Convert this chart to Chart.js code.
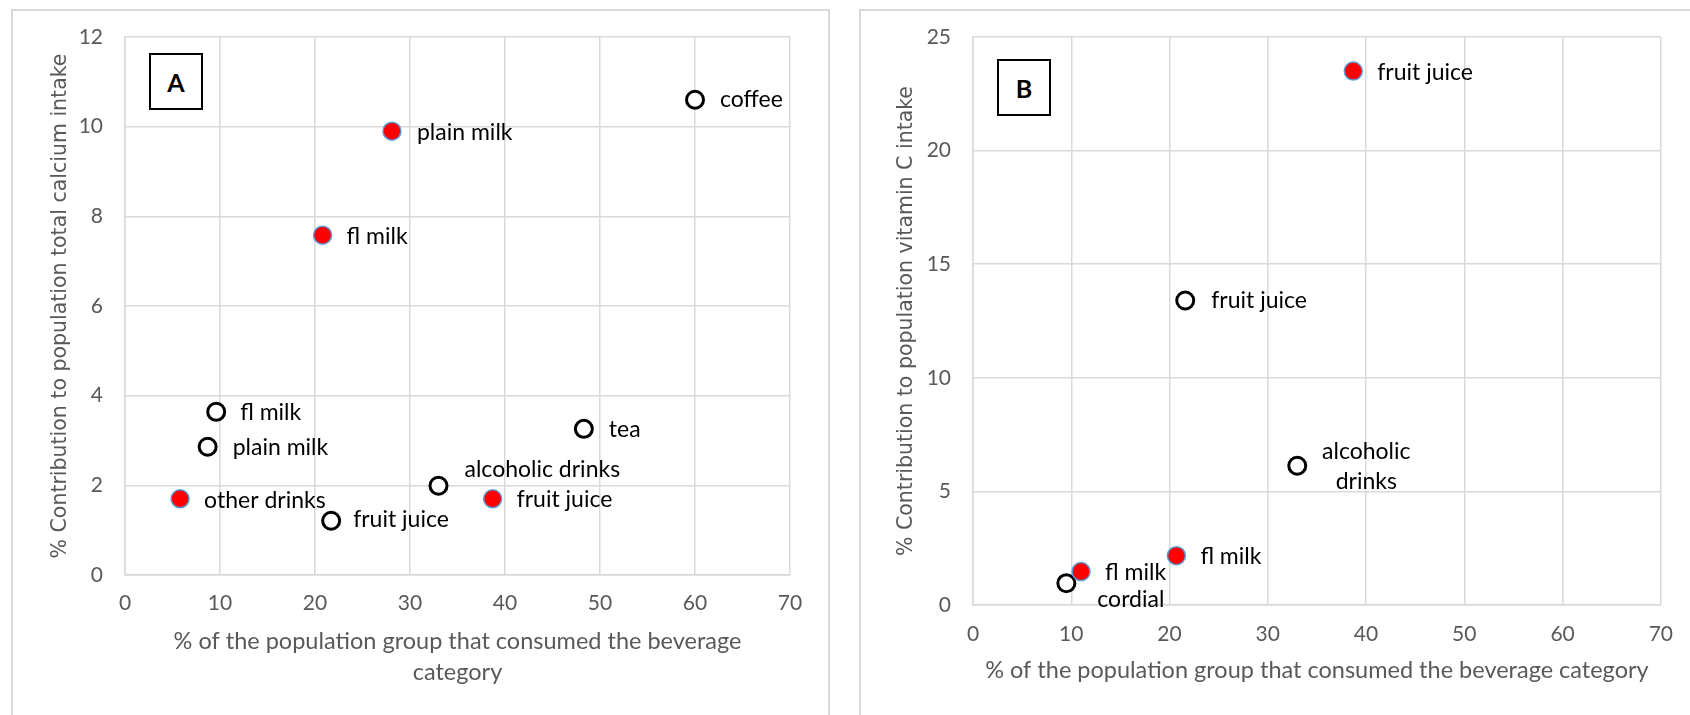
<!DOCTYPE html>
<html lang="en">

<head>
    <meta charset="UTF-8">
    <title>Beverage contributions</title>
    <style>
        body {
            margin: 0;
            background: #fff;
            width: 1690px;
            height: 715px;
            overflow: hidden;
            position: relative;
        }

        .frame {
            position: absolute;
            border: 2px solid #d9d9d9;
            box-sizing: border-box;
        }

        .panel {
            position: absolute;
            top: 0;
        }

        .tag {
            position: absolute;
            border: 2px solid #000;
            box-sizing: border-box;
            background: #fff;
            font: bold 25px Lato, sans-serif;
            display: flex;
            align-items: center;
            justify-content: center;
        }
    </style>
</head>

<body>
    <div class="frame" style="left:11px; top:9px; width:819px; height:720px;"></div>
    <div class="frame" style="left:859px; top:9px; width:840px; height:720px;"></div>

    <canvas class="panel" id="chartA" width="845" height="715" style="left:0px;"></canvas>
    <canvas class="panel" id="chartB" width="845" height="715" style="left:845px;"></canvas>

    <div class="tag" style="left:149px; top:53px; width:54px; height:57px;">A</div>
    <div class="tag" style="left:997px; top:59px; width:54px; height:57px;">B</div>

    <script src="https://cdn.jsdelivr.net/npm/chart.js"></script>

    <script>
        // panel A: calcium
        const calciumRedNames = ["plain milk", "fl milk", "other drinks", "fruit juice"];
        const calciumRedX = [28.1, 20.8, 5.8, 38.7];
        const calciumRedY = [9.9, 7.58, 1.7, 1.7];

        const calciumOpenNames = ["coffee", "fl milk", "plain milk", "fruit juice", "alcoholic drinks", "tea"];
        const calciumOpenX = [60.0, 9.6, 8.7, 21.7, 33.0, 48.3];
        const calciumOpenY = [10.6, 3.64, 2.86, 1.21, 1.99, 3.26];

        const calciumXTicks = [0, 10, 20, 30, 40, 50, 60, 70];
        const calciumYTicks = [0, 2, 4, 6, 8, 10, 12];

        // panel B: vitamin C
        const vitcRedNames = ["fruit juice", "fl milk", "fl milk"];
        const vitcRedX = [38.7, 20.7, 11.0];
        const vitcRedY = [23.5, 2.17, 1.47];

        const vitcOpenNames = ["fruit juice", "alcoholic\ndrinks", "cordial"];
        const vitcOpenX = [21.6, 33.0, 9.5];
        const vitcOpenY = [13.4, 6.13, 0.96];

        const vitcXTicks = [0, 10, 20, 30, 40, 50, 60, 70];
        const vitcYTicks = [0, 5, 10, 15, 20, 25];

        // label placement relative to each marker: [dx, dy, align]
        const calciumRedOffsets = [[25, 1], [24, 1], [24, 2], [24, 1]];
        const calciumOpenOffsets = [[25, 0], [24, 1], [25, 1], [22, -1], [26, -16], [25, 1]];
        const vitcRedOffsets = [[24, 1], [24, 1], [24, 1]];
        const vitcOpenOffsets = [[26, 0], [69, -14, "center"], [31, 16]];

        const gray = "#595959";
        const gridGray = "#d9d9d9";

        function points(xs, ys) {
            return xs.map((x, i) => ({ x: x, y: ys[i] }));
        }

        const pointLabels = {
            id: "pointLabels",
            afterDatasetsDraw(chart) {
                const ctx = chart.ctx;
                ctx.save();
                ctx.font = "23px Lato";
                ctx.fillStyle = "#000";
                ctx.textBaseline = "middle";
                chart.data.datasets.forEach((ds, di) => {
                    const meta = chart.getDatasetMeta(di);
                    meta.data.forEach((pt, i) => {
                        const off = ds.labelOffsets[i];
                        ctx.textAlign = off[2] || "left";
                        ds.names[i].split("\n").forEach((line, k) => {
                            ctx.fillText(line, pt.x + off[0], pt.y + off[1] + k * 30);
                        });
                    });
                });
                ctx.restore();
            }
        };

        function redSet(names, xs, ys, offsets) {
            return {
                data: points(xs, ys),
                names: names,
                labelOffsets: offsets,
                backgroundColor: "#ff0000",
                borderColor: "#5b9bd5",
                borderWidth: 1.5,
                pointRadius: 9,
                pointHoverRadius: 9
            };
        }

        function openSet(names, xs, ys, offsets) {
            return {
                data: points(xs, ys),
                names: names,
                labelOffsets: offsets,
                backgroundColor: "#ffffff",
                borderColor: "#000000",
                borderWidth: 3,
                pointRadius: 8.5,
                pointHoverRadius: 8.5
            };
        }

        function makeChart(id, opts) {
            return new Chart(document.getElementById(id), {
                type: "scatter",
                data: { datasets: opts.datasets },
                plugins: [pointLabels],
                options: {
                    responsive: false,
                    animation: false,
                    layout: { padding: { top: 37, right: opts.rightPad, left: 0, bottom: 0 } },
                    plugins: { legend: { display: false }, tooltip: { enabled: false } },
                    scales: {
                        x: {
                            type: "linear",
                            min: opts.xTicks[0],
                            max: opts.xTicks[opts.xTicks.length - 1],
                            afterBuildTicks: s => { s.ticks = opts.xTicks.map(v => ({ value: v })); },
                            afterFit: s => { s.height = opts.xAxisHeight; },
                            ticks: { color: gray, font: { family: "Lato", size: 21 }, padding: opts.xTickPad },
                            grid: { color: gridGray, lineWidth: 1.5, drawTicks: false },
                            border: { color: gridGray, width: 1.5 },
                            title: {
                                display: true,
                                text: opts.xTitle,
                                color: gray,
                                font: { family: "Lato", size: 23.5, lineHeight: 1.32 },
                                padding: { bottom: opts.xTitlePad, top: 0 }
                            }
                        },
                        y: {
                            type: "linear",
                            min: opts.yTicks[0],
                            max: opts.yTicks[opts.yTicks.length - 1],
                            afterBuildTicks: s => { s.ticks = opts.yTicks.map(v => ({ value: v })); },
                            afterFit: s => { s.width = opts.yAxisWidth; },
                            ticks: { color: gray, font: { family: "Lato", size: 21 }, padding: 22 },
                            grid: { color: gridGray, lineWidth: 1.5, drawTicks: false },
                            border: { color: gridGray, width: 1.5 },
                            title: {
                                display: true,
                                text: opts.yTitle,
                                color: gray,
                                font: { family: "DejaVu Sans", size: 20.5 },
                                padding: { top: opts.yTitlePad, bottom: 0 }
                            }
                        }
                    }
                }
            });
        }

        makeChart("chartA", {
            datasets: [
                redSet(calciumRedNames, calciumRedX, calciumRedY, calciumRedOffsets),
                openSet(calciumOpenNames, calciumOpenX, calciumOpenY, calciumOpenOffsets)
            ],
            xTicks: calciumXTicks,
            yTicks: calciumYTicks,
            rightPad: 55,
            xAxisHeight: 140,
            yAxisWidth: 125,
            xTickPad: 16,
            xTitlePad: 27.5,
            yTitlePad: 48.5,
            xTitle: ["% of the population group that consumed the beverage", "category"],
            yTitle: "% Contribution to population total calcium intake"
        });

        makeChart("chartB", {
            datasets: [
                redSet(vitcRedNames, vitcRedX, vitcRedY, vitcRedOffsets),
                openSet(vitcOpenNames, vitcOpenX, vitcOpenY, vitcOpenOffsets)
            ],
            xTicks: vitcXTicks,
            yTicks: vitcYTicks,
            rightPad: 26,
            xAxisHeight: 110,
            yAxisWidth: 128,
            xTickPad: 17,
            xTitlePad: 29.5,
            yTitlePad: 49.5,
            xTitle: "% of the population group that consumed the beverage category",
            yTitle: "% Contribution to population vitamin C intake"
        });
    </script>
</body>

</html>
